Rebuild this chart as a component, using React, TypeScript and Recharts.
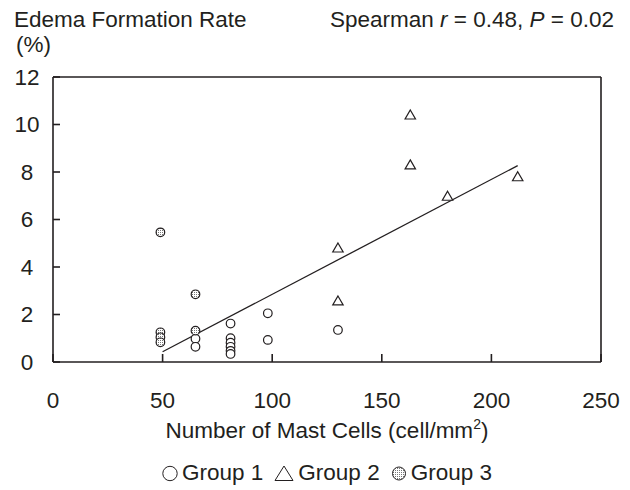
import React from "react";
import { ScatterChart, Scatter, XAxis, YAxis, ReferenceLine, Legend } from "recharts";

const FONT = '"Liberation Sans", Arial, Helvetica, sans-serif';
const INK = "#231f20";
const FS = 22.5;

const xTicks = [0, 50, 100, 150, 200, 250];
const yTicks = [0, 2, 4, 6, 8, 10, 12];

// Group 1: open circles
const group1X = [65, 65, 81, 81, 81, 81, 81, 81, 98, 98, 130];
const group1Y = [0.98, 0.64, 1.62, 1.0, 0.81, 0.64, 0.47, 0.34, 2.05, 0.93, 1.35];
// Group 2: open triangles
const group2X = [163, 163, 180, 212, 130, 130];
const group2Y = [10.4, 8.3, 6.98, 7.8, 4.8, 2.57];
// Group 3: dotted circles
const group3X = [49, 49, 49, 49, 65, 65];
const group3Y = [5.46, 1.25, 1.04, 0.83, 2.85, 1.32];
// regression line end points
const fitX = [50, 212];
const fitY = [0.43, 8.27];

const toPts = (xs: number[], ys: number[]) => xs.map((x, i) => ({ x, y: ys[i] }));
const group1 = toPts(group1X, group1Y);
const group2 = toPts(group2X, group2Y);
const group3 = toPts(group3X, group3Y);
const fit = toPts(fitX, fitY);

const OpenCircle = ({ cx, cy }: any) => (
  <circle cx={cx} cy={cy} r={4.3} fill="#fff" stroke={INK} strokeWidth={1.2} />
);

const OpenTriangle = ({ cx, cy }: any) => (
  <path
    d={`M${cx},${cy - 5} L${cx + 5.2},${cy + 4} L${cx - 5.2},${cy + 4} Z`}
    fill="#fff"
    stroke={INK}
    strokeWidth={1.2}
  />
);

const DottedCircle = ({ cx, cy }: any) => (
  <g>
    <defs>
      <pattern id="dots3" width="2" height="2" patternUnits="userSpaceOnUse">
        <rect width="2" height="2" fill="#fff" />
        <rect width="1" height="1" fill="#777" />
      </pattern>
    </defs>
    <circle cx={cx} cy={cy} r={4.3} fill="url(#dots3)" stroke={INK} strokeWidth={1.2} />
  </g>
);

const legendIcon = (name: string) => {
  if (name === "Group 2")
    return (
      <svg width={20} height={18}>
        <path d="M10,2 L19,16.5 L1,16.5 Z" fill="none" stroke={INK} strokeWidth={1} />
      </svg>
    );
  return (
    <svg width={16} height={18}>
      <circle
        cx={8}
        cy={9.5}
        r={name === "Group 3" ? 6.5 : 7.2}
        fill={name === "Group 3" ? "url(#dots3)" : "none"}
        stroke={INK}
        strokeWidth={1}
      />
    </svg>
  );
};

const renderLegend = (props: any) => (
  <div style={{ display: "flex", justifyContent: "center", gap: 11, fontFamily: FONT, fontSize: FS, color: INK }}>
    {(props.payload || []).map((p: any) => (
      <span key={p.value} style={{ display: "flex", alignItems: "center", gap: 4 }}>
        {legendIcon(p.value)}
        {p.value}
      </span>
    ))}
  </div>
);

const XTick = ({ x, y, payload }: any) => (
  <text x={x} y={y} dy="0.71em" textAnchor="middle" fontFamily={FONT} fontSize={FS} fill={INK}>
    {payload.value}
  </text>
);

const YTick = ({ x, y, payload }: any) => (
  <text x={x} y={y} dy="0.355em" textAnchor="middle" fontFamily={FONT} fontSize={FS} fill={INK}>
    {payload.value}
  </text>
);

const XTitle = ({ viewBox }: any) => (
  <text
    x={viewBox.x + viewBox.width / 2}
    y={viewBox.y + 76}
    textAnchor="middle"
    fontFamily={FONT}
    fontSize={FS}
    fill={INK}
  >
    Number of Mast Cells (cell/mm
    <tspan fontSize={14} dy={-9}>2</tspan>
    <tspan dy={9}>)</tspan>
  </text>
);

export default function App() {
  return (
    <div style={{ position: "absolute", left: 0, top: 0, width: 630, height: 490, background: "#fff" }}>
      <div style={{ position: "absolute", left: 14, top: 7, fontFamily: FONT, fontSize: FS, color: INK, lineHeight: "25px" }}>
        Edema Formation Rate
        <br />
        <span style={{ marginLeft: 2 }}>(%)</span>
      </div>
      <div style={{ position: "absolute", right: 16, top: 7, fontFamily: FONT, fontSize: FS, color: INK, lineHeight: "25px" }}>
        Spearman <i>r</i> = 0.48, <i>P</i> = 0.02
      </div>
      <ScatterChart width={630} height={490} margin={{ top: 77, right: 29, bottom: 98, left: 0 }}>
        <XAxis
          type="number"
          dataKey="x"
          domain={[0, 250]}
          ticks={xTicks}
          interval={0}
          height={30}
          stroke={INK}
          strokeWidth={1.6}
          tickSize={-8}
          tickMargin={38}
          tick={<XTick />}
          label={<XTitle />}
        />
        <YAxis
          type="number"
          dataKey="y"
          domain={[0, 12]}
          ticks={yTicks}
          interval={0}
          width={53}
          stroke={INK}
          strokeWidth={1.6}
          tickSize={-7}
          tickMargin={33}
          tick={<YTick />}
        />
        <ReferenceLine y={12} stroke={INK} strokeWidth={1.6} />
        <ReferenceLine x={250} stroke={INK} strokeWidth={1.6} />
        <ReferenceLine
          segment={[fit[0], fit[1]]}
          stroke={INK}
          strokeWidth={1.3}
          ifOverflow="visible"
        />
        <Scatter name="Group 1" data={group1} shape={<OpenCircle />} isAnimationActive={false} />
        <Scatter name="Group 2" data={group2} shape={<OpenTriangle />} isAnimationActive={false} />
        <Scatter name="Group 3" data={group3} shape={<DottedCircle />} isAnimationActive={false} />
        <Legend
          layout="horizontal"
          verticalAlign="middle"
          wrapperStyle={{ top: 460, left: 53, width: 548 }}
          content={renderLegend}
        />
      </ScatterChart>
    </div>
  );
}
